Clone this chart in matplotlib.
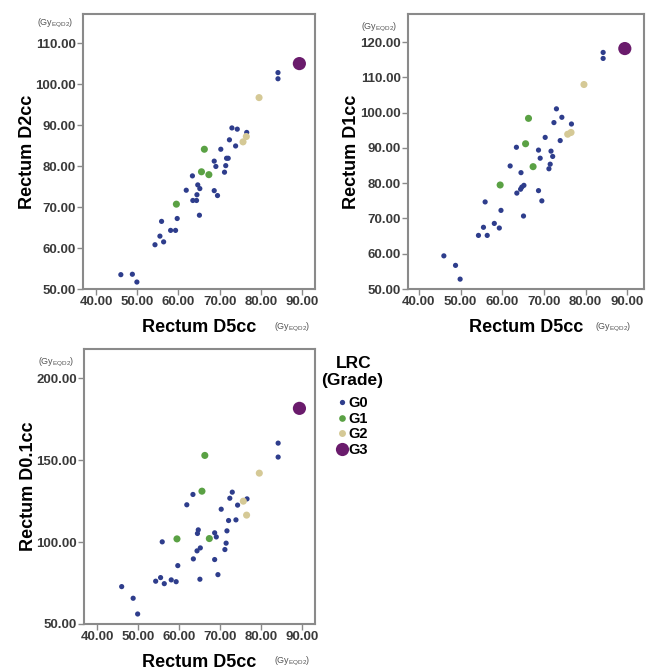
import numpy as np
import matplotlib
matplotlib.use('Agg')
import matplotlib.pyplot as plt
from matplotlib.lines import Line2D

plt.rcParams['font.family'] = ['Liberation Sans', 'DejaVu Sans']
plt.rcParams['mathtext.default'] = 'regular'

# Rectum D5cc (x) and D2cc / D1cc / D0.1cc (y) per LRC grade, Gy EQD2
g0_d5 = [46.0, 48.8, 49.9, 54.3, 55.5, 55.9, 56.4, 58.1, 59.3, 59.7, 61.9, 63.4,
         63.5, 64.4, 64.5, 64.7, 65.2, 65.1, 68.7, 69.1, 68.7, 69.5, 70.3, 71.2,
         71.5, 71.7, 72.1, 72.4, 73.0, 74.3, 73.9, 76.6, 84.2, 84.2]
g0_d2 = [53.5, 53.6, 51.7, 60.8, 62.9, 66.5, 61.5, 64.3, 64.3, 67.2, 74.1, 77.6,
         71.6, 71.6, 73.0, 75.4, 74.5, 68.0, 81.2, 79.9, 74.0, 72.8, 84.1, 78.5,
         80.1, 81.9, 81.9, 86.4, 89.3, 89.0, 84.9, 88.2, 102.8, 101.3]
g0_d1 = [59.4, 56.7, 52.8, 65.2, 67.5, 74.7, 65.2, 68.6, 67.3, 72.3, 84.9, 90.2,
         77.2, 78.3, 83.0, 78.9, 79.4, 70.7, 89.4, 87.1, 77.9, 75.0, 93.0, 84.1,
         85.4, 89.1, 87.6, 97.2, 101.1, 98.7, 92.1, 96.8, 117.1, 115.4]
g0_d01 = [72.8, 65.7, 56.1, 76.1, 78.3, 100.1, 74.6, 76.9, 75.8, 85.6, 122.7, 129.0,
          89.7, 94.6, 105.2, 107.4, 96.4, 77.3, 105.6, 103.1, 89.3, 80.1, 120.0, 95.4,
          99.3, 106.8, 113.1, 126.7, 130.4, 122.5, 113.5, 126.3, 160.3, 151.8]

g1_d5 = [59.5, 65.6, 66.3, 67.4]
g1_d2 = [70.7, 78.6, 84.1, 77.9]
g1_d1 = [79.5, 91.2, 98.4, 84.7]
g1_d01 = [101.9, 131.0, 152.8, 102.1]

g2_d5 = [79.6, 75.7, 76.5]
g2_d2 = [96.7, 85.9, 87.2]
g2_d1 = [108.0, 93.9, 94.4]
g2_d01 = [142.0, 124.9, 116.4]

g3_d5 = [89.4]
g3_d2 = [105.0]
g3_d1 = [118.2]
g3_d01 = [181.5]

grades = ['G0', 'G1', 'G2', 'G3']
colors = ['#2e3d8c', '#5aa144', '#d5c996', '#6a1b6c']
sizes = [14, 26, 26, 90]

x_ticks = [40, 50, 60, 70, 80, 90]

W, H = 646, 671
fig = plt.figure(figsize=(W / 100, H / 100), dpi=100)


def px_axes(l, t, r, b):
    return fig.add_axes([l / W, 1 - b / H, (r - l) / W, (b - t) / H])


def style(ax, xlim, ylim, yticks, ylabel, ux, uy):
    ax.set_xlim(*xlim)
    ax.set_ylim(*ylim)
    ax.set_xticks(x_ticks)
    ax.set_yticks(yticks)
    ax.set_xticklabels(['%.2f' % v for v in x_ticks])
    ax.set_yticklabels(['%.2f' % v for v in yticks])
    for s in ax.spines.values():
        s.set_color('#8a8a8a')
        s.set_linewidth(1.5)
    ax.tick_params(direction='out', length=4, width=1, color='#8a8a8a',
                   labelsize=9.5, labelcolor='#3a3a3a', pad=1)
    for lab in ax.get_xticklabels() + ax.get_yticklabels():
        lab.set_fontweight('bold')
    ax.text(-0.24, 0.5, ylabel, transform=ax.transAxes, rotation=90,
            ha='center', va='center', fontsize=13, fontweight='bold')
    ax.text(0.5, -0.14, 'Rectum D5cc', transform=ax.transAxes,
            ha='center', va='center', fontsize=13, fontweight='bold')
    # unit labels
    ax.text(ux, -0.138, r'(Gy$_{EQD2}$)', transform=ax.transAxes,
            ha='center', va='center', fontsize=6.5, color='#555555')
    ax.text(-0.12, uy, r'(Gy$_{EQD2}$)', transform=ax.transAxes,
            ha='center', va='center', fontsize=6.5, color='#555555')


def draw(ax, ys):
    xs = [g0_d5, g1_d5, g2_d5, g3_d5]
    for x, y, c, s in zip(xs, ys, colors, sizes):
        ax.scatter(x, y, s=s, color=c, edgecolors='none', zorder=3)


ax1 = px_axes(83, 14, 315, 289)
draw(ax1, [g0_d2, g1_d2, g2_d2, g3_d2])
style(ax1, (36.8, 93.2), (50, 117.1), [50, 60, 70, 80, 90, 100, 110],
      'Rectum D2cc', 0.90, 0.964)

ax2 = px_axes(408, 14, 644, 289)
draw(ax2, [g0_d1, g1_d1, g2_d1, g3_d1])
style(ax2, (37.4, 94.0), (50, 128.0), [50, 60, 70, 80, 90, 100, 110, 120],
      'Rectum D1cc', 0.87, 0.952)

ax3 = px_axes(84, 349, 315, 624)
draw(ax3, [g0_d01, g1_d01, g2_d01, g3_d01])
style(ax3, (36.8, 93.2), (50, 217.7), [50, 100, 150, 200],
      'Rectum D0.1cc', 0.90, 0.952)

# legend
fig.text(354 / W, 1 - 364 / H, 'LRC', ha='center', va='center',
         fontsize=12.5, fontweight='bold')
fig.text(352 / W, 1 - 381 / H, '(Grade)', ha='center', va='center',
         fontsize=12.5, fontweight='bold')
handles = [Line2D([], [], marker='o', linestyle='none', color=c, markeredgecolor='none',
                  markersize=m) for c, m in zip(colors, [3.8, 4.8, 5.0, 9.5])]
fig.legend(handles, grades, loc='upper left', bbox_to_anchor=(337 / W, 1 - 396 / H),
           frameon=False, prop={'weight': 'bold', 'size': 10.5},
           handlelength=0.7, handletextpad=0.1, labelspacing=0.12,
           borderpad=0, borderaxespad=0)

fig.savefig('out.png', dpi=100, facecolor='white')
